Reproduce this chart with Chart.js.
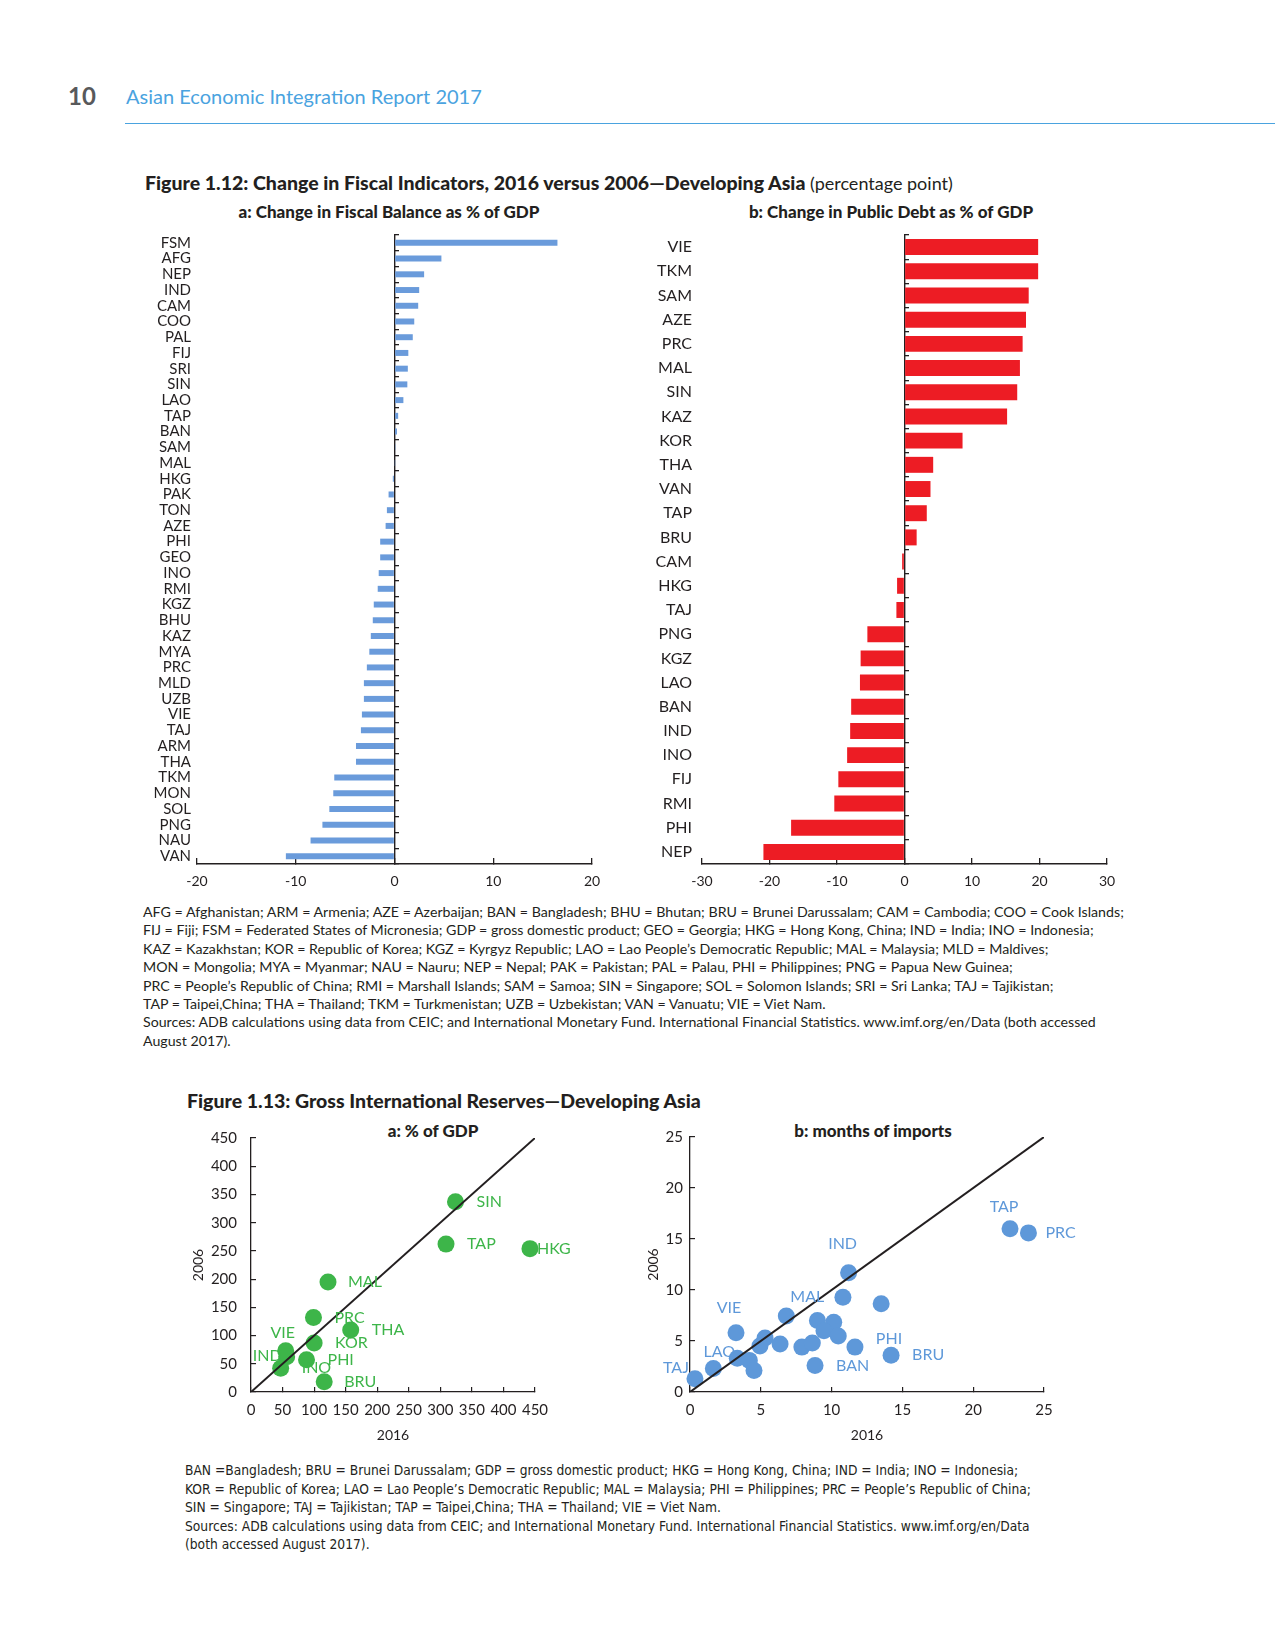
<!DOCTYPE html>
<html>
<head>
<meta charset="utf-8">
<script src="https://cdn.jsdelivr.net/npm/chart.js@4.4.0/dist/chart.umd.min.js"></script>
<style>
  body { margin: 0; background: #fff; }
  #page { position: relative; width: 1275px; height: 1650px; overflow: hidden;
          font-family: Lato, "Open Sans", sans-serif; color: #231f20; }
  .abs { position: absolute; white-space: nowrap; }
  canvas { position: absolute; }
  .pg { left: 68px; top: 83px; font-size: 24px; line-height: 26px; font-weight: 700; color: #58595b; }
  .runhead { left: 126px; top: 84px; font-size: 20px; line-height: 24px; color: #4aa3df; }
  .rule { left: 125px; top: 123px; width: 1150px; height: 1px; background: #4aa3df; }
  .figtitle { font-size: 19.5px; line-height: 22px; font-weight: 900; }
  .figtitle span { font-weight: 400; font-size: 18px; }
  .sub { width: 400px; text-align: center; font-size: 17px; line-height: 20px; font-weight: 900; }
  .note { font-size: 14.2px; line-height: 18.4px; }
  .note2 { font-family: "Liberation Sans Narrow", "DejaVu Sans Condensed", sans-serif; font-size: 13.7px; line-height: 18.5px; }
</style>
</head>
<body>
<div id="page">
  <div class="abs pg">10</div>
  <div class="abs runhead">Asian Economic Integration Report 2017</div>
  <div class="abs rule"></div>

  <div class="abs figtitle" style="left:145px;top:172px;">Figure 1.12: Change in Fiscal Indicators, 2016 versus 2006—Developing Asia <span>(percentage point)</span></div>
  <div class="abs sub" style="left:189px;top:202px;">a: Change in Fiscal Balance as % of GDP</div>
  <div class="abs sub" style="left:691px;top:202px;">b: Change in Public Debt as % of GDP</div>

  <canvas id="balance" width="480" height="670" style="left:130px;top:225px;"></canvas>
  <canvas id="debt" width="500" height="670" style="left:620px;top:225px;"></canvas>

  <div class="abs note" style="left:143px;top:903px;">
    AFG = Afghanistan; ARM = Armenia; AZE = Azerbaijan; BAN = Bangladesh; BHU = Bhutan; BRU = Brunei Darussalam; CAM = Cambodia; COO = Cook Islands;<br>
    FIJ = Fiji; FSM = Federated States of Micronesia; GDP = gross domestic product; GEO = Georgia; HKG = Hong Kong, China; IND = India; INO = Indonesia;<br>
    KAZ = Kazakhstan; KOR = Republic of Korea; KGZ = Kyrgyz Republic; LAO = Lao People’s Democratic Republic; MAL = Malaysia; MLD = Maldives;<br>
    MON = Mongolia; MYA = Myanmar; NAU = Nauru; NEP = Nepal; PAK = Pakistan; PAL = Palau, PHI = Philippines; PNG = Papua New Guinea;<br>
    PRC = People’s Republic of China; RMI = Marshall Islands; SAM = Samoa; SIN = Singapore; SOL = Solomon Islands; SRI = Sri Lanka; TAJ = Tajikistan;<br>
    TAP = Taipei,China; THA = Thailand; TKM = Turkmenistan; UZB = Uzbekistan; VAN = Vanuatu; VIE = Viet Nam.<br>
    Sources: ADB calculations using data from CEIC; and International Monetary Fund. International Financial Statistics. www.imf.org/en/Data (both accessed<br>
    August 2017).
  </div>

  <div class="abs figtitle" style="left:187px;top:1090px;">Figure 1.13: Gross International Reserves—Developing Asia</div>
  <div class="abs sub" style="left:233px;top:1121px;">a: % of GDP</div>
  <div class="abs sub" style="left:673px;top:1121px;">b: months of imports</div>

  <canvas id="gdp" width="400" height="340" style="left:180px;top:1115px;"></canvas>
  <canvas id="imports" width="450" height="340" style="left:640px;top:1115px;"></canvas>

  <div class="abs note2" style="left:185px;top:1461px;">
    BAN =Bangladesh; BRU = Brunei Darussalam; GDP = gross domestic product; HKG = Hong Kong, China; IND = India; INO = Indonesia;<br>
    KOR = Republic of Korea; LAO = Lao People’s Democratic Republic; MAL = Malaysia; PHI = Philippines; PRC = People’s Republic of China;<br>
    SIN = Singapore; TAJ = Tajikistan; TAP = Taipei,China; THA = Thailand; VIE = Viet Nam.<br>
    Sources: ADB calculations using data from CEIC; and International Monetary Fund. International Financial Statistics. www.imf.org/en/Data<br>
    (both accessed August 2017).
  </div>
</div>

<script>
// Figure 1.12a: change in fiscal balance, % of GDP
const balanceCountries = ['FSM','AFG','NEP','IND','CAM','COO','PAL','FIJ','SRI','SIN','LAO','TAP','BAN','SAM','MAL',
  'HKG','PAK','TON','AZE','PHI','GEO','INO','RMI','KGZ','BHU','KAZ','MYA','PRC','MLD','UZB','VIE','TAJ','ARM','THA',
  'TKM','MON','SOL','PNG','NAU','VAN'];
const balanceChange = [16.5, 4.75, 3.0, 2.5, 2.4, 2.0, 1.85, 1.4, 1.35, 1.3, 0.9, 0.37, 0.25, 0.1, 0.03,
  -0.17, -0.6, -0.77, -0.9, -1.45, -1.45, -1.6, -1.7, -2.1, -2.2, -2.4, -2.55, -2.8, -3.1, -3.1, -3.3, -3.4, -3.9, -3.9,
  -6.1, -6.2, -6.6, -7.3, -8.5, -11.0];
const balanceTicks = [-20, -10, 0, 10, 20];

// Figure 1.12b: change in public debt, % of GDP
const debtCountries = ['VIE','TKM','SAM','AZE','PRC','MAL','SIN','KAZ','KOR','THA','VAN','TAP','BRU',
  'CAM','HKG','TAJ','PNG','KGZ','LAO','BAN','IND','INO','FIJ','RMI','PHI','NEP'];
const debtChange = [19.8, 19.8, 18.4, 18.0, 17.5, 17.1, 16.7, 15.2, 8.6, 4.25, 3.85, 3.3, 1.8,
  -0.35, -1.1, -1.2, -5.5, -6.5, -6.6, -7.9, -8.05, -8.5, -9.8, -10.4, -16.8, -20.9];
const debtTicks = [-30, -20, -10, 0, 10, 20, 30];

// Figure 1.13a: reserves, % of GDP
const gdpNames = ['SIN','TAP','HKG','MAL','PRC','THA','KOR','VIE','IND','INO','PHI','BRU'];
const gdp2016 = [324, 309, 442, 122, 99, 158, 100, 55, 56.5, 47, 88, 116];
const gdp2006 = [337, 262, 254, 195, 132, 110, 87, 73, 62.5, 42, 57, 18];
const gdpTicks = [0, 50, 100, 150, 200, 250, 300, 350, 400, 450];

// Figure 1.13b: reserves, months of imports
const importNames = ['TAP','PRC','IND','','','MAL','','','','','VIE','','','','','','PHI','BRU','BAN','LAO','','','','TAJ'];
const import2016 = [22.6, 23.9, 11.2, 10.8, 13.5, 6.8, 9.0, 10.15, 9.46, 10.47, 3.25, 5.3, 4.94, 6.36, 7.9, 8.64,
  11.65, 14.2, 8.83, 3.34, 4.19, 4.52, 1.65, 0.35];
const import2006 = [16.0, 15.6, 11.7, 9.3, 8.65, 7.45, 7.0, 6.83, 6.0, 5.5, 5.8, 5.3, 4.5, 4.7, 4.4, 4.8,
  4.4, 3.6, 2.6, 3.3, 3.1, 2.1, 2.3, 1.3];
const importTicks = [0, 5, 10, 15, 20, 25];

// label placement (pixels from the marker): [align, dx, dy]
const gdpLabelPos = {
  SIN: ['left', 21, 0], TAP: ['left', 21, 0], HKG: ['left', 7, 0], MAL: ['left', 20, 0], PRC: ['left', 21, 0],
  THA: ['left', 21, 0], KOR: ['left', 21, 0], VIE: ['center', -3, -18], IND: ['right', -5, -1],
  INO: ['left', 21, 0], PHI: ['left', 21, 0], BRU: ['left', 20, 0]
};
const importLabelPos = {
  TAP: ['center', -6, -22], PRC: ['left', 17, 0], IND: ['center', -6, -29], MAL: ['center', 21, -19],
  VIE: ['center', -7, -25], LAO: ['center', -18, -6], TAJ: ['center', -19, -11], PHI: ['center', 34, -8],
  BRU: ['left', 21, 0], BAN: ['left', 21, 0]
};

const INK = '#231f20';
const FONT = 'Lato, "Open Sans", sans-serif';
Chart.defaults.font.family = FONT;
Chart.defaults.color = INK;

const pointLabels = {
  id: 'pointLabels',
  afterDatasetsDraw(chart, args, opts) {
    if (!opts.names) return;
    const meta = chart.getDatasetMeta(opts.dataset);
    const ctx = chart.ctx;
    ctx.save();
    ctx.font = '16px ' + FONT;
    ctx.fillStyle = opts.color;
    ctx.textBaseline = 'middle';
    opts.names.forEach((name, i) => {
      const pos = opts.positions[name];
      if (!name || !pos) return;
      const el = meta.data[i];
      ctx.textAlign = pos[0];
      ctx.fillText(name, el.x + pos[1], el.y + pos[2]);
    });
    ctx.restore();
  }
};
Chart.register(pointLabels);

function fixedTicks(list) {
  return scale => { scale.ticks = list.map(v => ({ value: v })); };
}
// keep the plot area exactly where the layout padding puts it
function noEdgePadding(scale) {
  scale.paddingTop = 0; scale.paddingBottom = 0;
  scale.paddingLeft = 0; scale.paddingRight = 0;
}

function barChart(id, labels, values, ticks, color, thickness, opts) {
  return new Chart(document.getElementById(id), {
    type: 'bar',
    data: {
      labels: labels,
      datasets: [{ data: values, backgroundColor: color, barPercentage: thickness, categoryPercentage: 1 }]
    },
    options: {
      indexAxis: 'y',
      responsive: false,
      animation: false,
      devicePixelRatio: 1,
      layout: { padding: { top: 10, right: opts.right, left: 0, bottom: 0 } },
      plugins: { legend: { display: false }, tooltip: { enabled: false } },
      scales: {
        x: {
          min: ticks[0], max: ticks[ticks.length - 1],
          afterBuildTicks: fixedTicks(ticks),
          ticks: { font: { size: 14 }, color: INK, padding: 15, maxRotation: 0, autoSkip: false },
          grid: { drawOnChartArea: false, tickLength: -6, color: INK, lineWidth: 1.3 },
          border: { color: INK, width: 1.4 },
          afterFit: s => { noEdgePadding(s); s.height = 31; }
        },
        y: {
          type: 'category',
          ticks: { font: { size: opts.labelSize }, color: INK, padding: opts.labelPad, autoSkip: false },
          grid: { display: false, drawTicks: false },
          border: { display: false },
          afterFit: s => { noEdgePadding(s); s.width = opts.axisWidth; }
        },
        y2: {
          type: 'category', axis: 'y', position: { x: 0 }, labels: labels, offset: true,
          ticks: { display: false },
          grid: { offset: true, drawOnChartArea: false, tickLength: -5, color: INK, lineWidth: 1.3 },
          border: { display: true, color: INK, width: 1.4 },
          afterFit: noEdgePadding
        }
      }
    }
  });
}

barChart('balance', balanceCountries, balanceChange, balanceTicks, '#6a9bdb', 0.38,
  { right: 18, axisWidth: 67, labelSize: 15, labelPad: 6 });
barChart('debt', debtCountries, debtChange, debtTicks, '#ed1c24', 0.66,
  { right: 13, axisWidth: 82, labelSize: 16, labelPad: 10 });

function scatterChart(id, names, xs, ys, ticks, color, labelColor, positions, opts) {
  const top = ticks[ticks.length - 1];
  return new Chart(document.getElementById(id), {
    type: 'scatter',
    data: {
      datasets: [
        { type: 'line', data: [{ x: 0, y: 0 }, { x: top, y: top }], borderColor: INK, borderWidth: 2,
          pointRadius: 0, fill: false },
        { data: xs.map((x, i) => ({ x: x, y: ys[i] })), backgroundColor: color, borderWidth: 0,
          pointRadius: 8.5, clip: false }
      ]
    },
    options: {
      responsive: false,
      animation: false,
      devicePixelRatio: 1,
      layout: { padding: { top: opts.top, right: opts.right, left: 0, bottom: 0 } },
      plugins: {
        legend: { display: false }, tooltip: { enabled: false },
        pointLabels: { dataset: 1, names: names, positions: positions, color: labelColor }
      },
      scales: {
        x: {
          type: 'linear', min: 0, max: top,
          afterBuildTicks: fixedTicks(ticks),
          ticks: { font: { size: 15 }, color: INK, padding: 14, maxRotation: 0, autoSkip: false },
          grid: { drawOnChartArea: false, tickLength: -5, color: INK, lineWidth: 1.2 },
          border: { color: INK, width: 1.3 },
          title: { display: true, text: '2016', font: { size: 14 }, color: INK, padding: { top: 0, bottom: 11.6 } },
          afterFit: s => { noEdgePadding(s); s.height = 63; }
        },
        y: {
          type: 'linear', min: 0, max: top,
          afterBuildTicks: fixedTicks(ticks),
          ticks: { font: { size: 15 }, color: INK, padding: opts.yPad, autoSkip: false },
          grid: { drawOnChartArea: false, tickLength: -5, color: INK, lineWidth: 1.2 },
          border: { color: INK, width: 1.3 },
          title: { display: true, text: '2006', font: { size: 14 }, color: INK, padding: { top: opts.titlePad, bottom: 0 } },
          afterFit: s => { noEdgePadding(s); s.width = opts.axisWidth; }
        }
      }
    }
  });
}

scatterChart('gdp', gdpNames, gdp2016, gdp2006, gdpTicks, '#3db549', '#3db549', gdpLabelPos,
  { top: 23, right: 45, axisWidth: 71, yPad: 19, titlePad: 9.6 });
scatterChart('imports', importNames, import2016, import2006, importTicks, '#5e98d9', '#5e98d9', importLabelPos,
  { top: 22, right: 46, axisWidth: 50, yPad: 12, titlePad: 4.6 });
</script>
</body>
</html>
